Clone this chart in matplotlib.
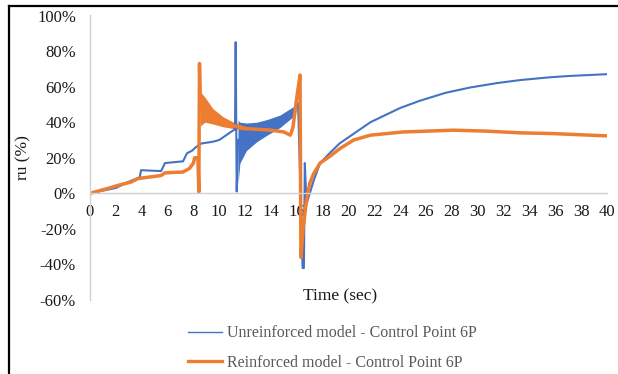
import matplotlib
matplotlib.use("Agg")
import matplotlib.pyplot as plt
from matplotlib.lines import Line2D
from matplotlib.ticker import FuncFormatter, MultipleLocator

plt.rcParams['font.family'] = ['Liberation Serif', 'DejaVu Serif']

# pore pressure ratio ru (%) against time (sec), control point 6P
unre_t = [0, 1, 2, 2.96, 3.5, 3.85, 3.95, 5.5, 5.8, 7.2, 7.5, 7.9, 8.2, 8.6, 9.5,
          10.0, 10.6, 11.0, 11.22, 11.27, 11.35, 11.45, 12.1, 12.9, 13.7, 14.7,
          15.7, 15.95, 16.1, 16.45, 16.55, 16.62, 16.75, 17.3, 17.8, 18.6, 19.3,
          20.1, 21.7, 24.0, 25.5, 27.5, 29.4, 31.5, 33.3, 35.5, 37.1, 40]
unre_ru = [0, 1.5, 3, 6.4, 8, 9, 13, 12.5, 17, 18, 22.5, 24, 26, 28, 29,
           30, 33, 35, 36, 85, 1, 30, 32, 34, 37, 40.5,
           46, 48, 50.7, -42, -42, 17, -6, 7, 17, 23, 28,
           32, 40, 48, 52, 56.5, 59.5, 62, 63.7, 65.2, 66, 67]

# oscillation envelope after the spike at 11.3 s
unre_band_t = [11.45, 11.6, 12.1, 12.9, 13.7, 14.7, 15.7, 15.95]
unre_band_lo = [5, 17, 24, 29, 32.7, 37, 43, 46]
unre_band_hi = [41, 40, 39.5, 40, 41.5, 44, 48.6, 49.6]

reinf_t = [0, 1.5, 2.2, 3.2, 3.7, 5.5, 5.8, 7.2, 7.7, 8.0, 8.1, 8.35, 8.42,
           8.47, 8.55, 8.9, 9.5, 10.3, 11.1, 12.1, 13.0, 14.0, 14.5, 15.0,
           15.5, 15.7, 16.0, 16.25, 16.32, 16.5, 16.75, 17.0, 17.3, 17.8,
           18.6, 19.3, 20.4, 21.7, 24.2, 28.1, 30.6, 33.3, 35.8, 40]
reinf_ru = [0, 3, 4.5, 6.4, 8.3, 10, 11.5, 12, 14, 17, 20, 20, 0.7,
            73, 47, 47, 43, 40, 38, 36.4, 36, 35.5, 35, 34.5,
            32.7, 37, 54, 66.5, -36, -19, -4, 5.6, 11, 17,
            21, 25, 30, 32.7, 34.5, 35.5, 35, 34, 33.6, 32.3]

# oscillation envelope after the spike at 8.5 s
reinf_band_t = [8.55, 8.9, 9.5, 10.3, 11.1, 12.1]
reinf_band_lo = [38, 40, 39, 37.4, 36.4, 35.5]
reinf_band_hi = [57, 54, 47.7, 43, 40, 37.4]

labels = ['Unreinforced model - Control Point 6P',
          'Reinforced model - Control Point 6P']
blue = '#4472C4'
orange = '#ED7D31'

fig = plt.figure(figsize=(6.18, 3.74), dpi=100)
ax = fig.add_axes([90 / 618, 74 / 374, 517 / 618, 284.5 / 374])

ax.fill_between(unre_band_t, unre_band_lo, unre_band_hi, color=blue, lw=0)
ax.plot(unre_t, unre_ru, color=blue, lw=1.5)
ax.fill_between(reinf_band_t, reinf_band_lo, reinf_band_hi, color=orange, lw=0)
ax.plot(reinf_t, reinf_ru, color=orange, lw=2.5)

ax.set_xlim(0, 40)
ax.set_ylim(-60, 100)
ax.xaxis.set_major_locator(MultipleLocator(2))
ax.yaxis.set_major_locator(MultipleLocator(20))
ax.yaxis.set_major_formatter(FuncFormatter(lambda v, p: '%d%%' % round(v)))

ax.spines['top'].set_visible(False)
ax.spines['right'].set_visible(False)
ax.spines['bottom'].set_position(('data', 0))
for s in ('left', 'bottom'):
    ax.spines[s].set_color('#D0D0D0')
    ax.spines[s].set_linewidth(1.0)
ax.tick_params(axis='both', length=0, labelsize=12, labelcolor='#1a1a1a')
ax.tick_params(axis='y', pad=10)
ax.tick_params(axis='x', pad=8)
ax.patch.set_alpha(0)

fig.text(23 / 618, 1 - 158 / 374, 'ru (%)', rotation=90, fontsize=12.5,
         ha='center', va='center', color='#1a1a1a')
fig.text(340 / 618, 1 - 296 / 374, 'Time (sec)', fontsize=12.5,
         ha='center', va='center', color='#1a1a1a')

handles = [Line2D([], [], color=blue, lw=1.0),
           Line2D([], [], color=orange, lw=2.4)]
fig.legend(handles, labels, loc='center left',
           bbox_to_anchor=(188 / 618, 1 - 348 / 374), frameon=False,
           fontsize=11.5, labelcolor='#595959', handlelength=2.15,
           handletextpad=0.3, labelspacing=0.85, borderpad=0,
           borderaxespad=0)

# frame on the top and left edges
fig.add_artist(Line2D([9 / 618, 1], [1 - 6 / 374, 1 - 6 / 374],
                      transform=fig.transFigure, color='black', lw=1.6))
fig.add_artist(Line2D([9 / 618, 9 / 618], [0, 1 - 6 / 374],
                      transform=fig.transFigure, color='black', lw=1.6))

fig.savefig('out.png', dpi=100)
